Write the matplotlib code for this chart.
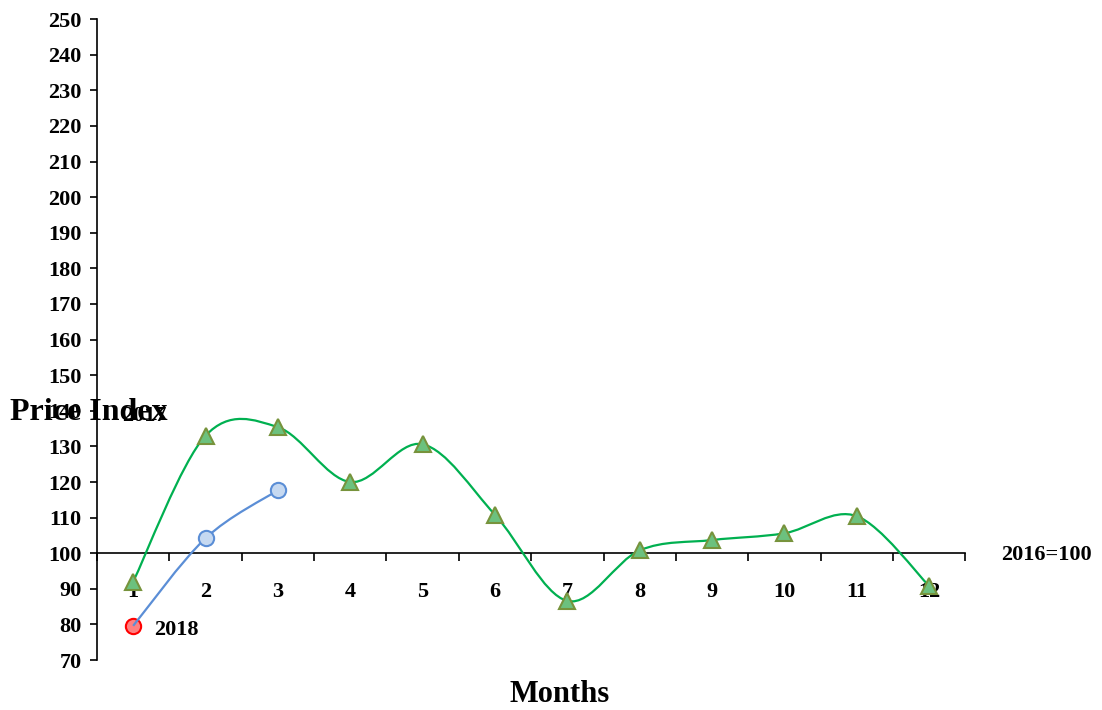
import matplotlib
matplotlib.use("Agg")
import matplotlib.pyplot as plt
from matplotlib.path import Path
from matplotlib.patches import PathPatch

plt.rcParams['font.family'] = ['Liberation Serif', 'DejaVu Serif']

# ข้อมูล
months = [1, 2, 3, 4, 5, 6, 7, 8, 9, 10, 11, 12]
idx_2017 = [92, 133, 135.4, 120, 130.6, 110.8, 86.6, 100.8, 103.7, 105.6, 110.4, 90.8]
months_2018 = [1, 2, 3]
idx_2018 = [79.6, 104.2, 117.7]
y_ticks = list(range(70, 251, 10))


def smooth_path(xs, ys):
    # เส้นโค้งแบบ Excel (Catmull-Rom -> Bezier)
    verts = [(xs[0], ys[0])]
    codes = [Path.MOVETO]
    n = len(xs)
    for i in range(n - 1):
        x0, y0 = (xs[i - 1], ys[i - 1]) if i > 0 else (xs[i], ys[i])
        x1, y1 = xs[i], ys[i]
        x2, y2 = xs[i + 1], ys[i + 1]
        x3, y3 = (xs[i + 2], ys[i + 2]) if i + 2 < n else (x2, y2)
        c1 = (x1 + (x2 - x0) / 6, y1 + (y2 - y0) / 6)
        c2 = (x2 - (x3 - x1) / 6, y2 - (y3 - y1) / 6)
        verts += [c1, c2, (x2, y2)]
        codes += [Path.CURVE4] * 3
    return Path(verts, codes)


fig = plt.figure(figsize=(11.02, 7.10), dpi=100)
ax = fig.add_axes([0.088, 0.0704, 0.788, 0.9026])

ax.add_patch(PathPatch(smooth_path(months, idx_2017), fill=False,
                       edgecolor='#00B050', lw=1.6, zorder=3))
ax.plot(months, idx_2017, ls='none', marker='^', ms=11, mfc='#6CC17E',
        mec='#77933C', mew=1.5, zorder=4)

ax.add_patch(PathPatch(smooth_path(months_2018, idx_2018), fill=False,
                       edgecolor='#5B8ED6', lw=1.6, zorder=3))
ax.plot(months_2018[1:], idx_2018[1:], ls='none', marker='o', ms=11,
        mfc='#C6D9F1', mec='#5B8ED6', mew=1.5, zorder=4)
ax.plot(months_2018[:1], idx_2018[:1], ls='none', marker='o', ms=11,
        mfc='#FF8080', mec='#FF0000', mew=1.5, zorder=2)

ax.set_xlim(0.5, 12.5)
ax.set_ylim(70, 250)

for s in ['top', 'right']:
    ax.spines[s].set_visible(False)
ax.spines['bottom'].set_position(('data', 100))
ax.spines['bottom'].set_linewidth(1.2)
ax.spines['left'].set_linewidth(1.2)

ax.set_yticks(y_ticks)
ax.set_yticklabels([str(v) for v in y_ticks], fontsize=16, fontweight='bold')
ax.tick_params(axis='y', direction='out', length=5, width=1.2, pad=6)

ax.set_xticks(months)
ax.set_xticklabels([str(m) for m in months], fontsize=16, fontweight='bold')
ax.set_xticks([m + 0.5 for m in range(0, 13)], minor=True)
ax.tick_params(axis='x', which='major', length=0, pad=21)
ax.tick_params(axis='x', which='minor', direction='out', length=6, width=1.2)

ax.text(1.15, 138.5, '2017', fontsize=16, fontweight='bold', ha='center', va='center')
ax.text(1.6, 78.3, '2018', fontsize=16, fontweight='bold', ha='center', va='center')
ax.text(13.0, 99.4, '2016=100', fontsize=16, fontweight='bold', ha='left',
        va='center', clip_on=False)

fig.text(10 / 1102, 1 - 412 / 710, 'Price Index', fontsize=23, fontweight='bold',
         ha='left', va='center')
fig.text(560 / 1102, 1 - 695 / 710, 'Months', fontsize=22, fontweight='bold',
         ha='center', va='center')

fig.savefig('out.png', dpi=100)
